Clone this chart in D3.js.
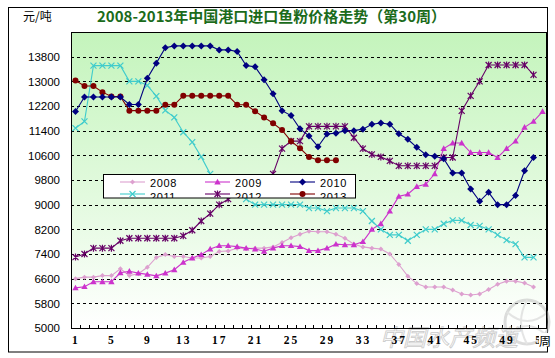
<!DOCTYPE html>
<html><head><meta charset="utf-8">
<script src="https://cdn.jsdelivr.net/npm/d3@7"></script>
<style>body{margin:0;background:#fff}svg{display:block}</style>
</head><body>
<svg id="c" width="555" height="358"></svg>
<script>
const years = ["2008","2009","2010","2011","2012","2013"];
const weeks = d3.range(1, 54);
const xTickLabels = [1,5,9,13,17,21,25,29,33,37,41,45,49,53];
const yTicks = [5000,5800,6600,7400,8200,9000,9800,10600,11400,12200,13000,13800];

const s2008 = [6600,6650,6650,6700,6700,6920,6700,6760,6970,7290,7380,7320,7320,7270,7270,7320,7480,7500,7590,7570,7590,7590,7630,7770,7930,8040,8140,8120,8120,8040,7910,7720,7630,7590,7560,7400,7060,6680,6440,6330,6330,6330,6230,6100,6070,6100,6250,6420,6520,6520,6460,6330];
const s2009 = [6300,6340,6500,6500,6500,6790,6840,6780,6740,6690,6780,6890,7130,7270,7380,7560,7670,7670,7640,7590,7560,7490,7590,7670,7670,7640,7510,7510,7590,7720,7700,7700,7800,8200,8380,8790,9270,9340,9590,9660,10000,10820,11000,11000,10690,10690,10690,10530,10820,11060,11510,11700,12020];
const s2010 = [12020,12490,12490,12490,12490,12490,12250,12250,13100,13590,14090,14150,14150,14150,14150,14150,14020,14020,13970,13510,13470,13050,12600,12050,11890,11460,11230,10880,11290,11320,11400,11400,11450,11610,11650,11610,11300,11120,10860,10620,10570,10490,10030,10030,9510,9110,9400,9000,9000,9300,10100,10530];
const s2011 = [11480,11700,13510,13510,13510,13510,13000,13000,12870,12520,12060,11830,11350,11030,10550,10000,9800,9600,9400,9180,9000,9000,9000,9000,9000,9000,8890,8890,8790,8890,8890,8890,8790,8470,8200,8020,8020,7830,8020,8200,8200,8380,8490,8490,8340,8310,8200,8020,7850,7720,7290,7290];
const s2012 = [7300,7400,7590,7590,7590,7830,7910,7910,7910,7910,7910,7910,7990,8170,8470,8710,9000,9180,9350,9500,9650,9830,10000,10820,11060,11060,11540,11540,11540,11540,11540,11170,10820,10630,10550,10420,10260,10260,10260,10260,10260,10530,10530,12040,12530,13000,13530,13530,13530,13530,13530,13210];
const s2013 = [13030,12850,12850,12650,12510,12510,12050,12050,12050,12050,12240,12240,12530,12530,12530,12530,12530,12530,12240,12240,12030,11830,11640,11420,11060,10830,10550,10440,10440,10440];

const seriesValues = [s2008, s2009, s2010, s2011, s2012, s2013];
const colors = ["#dda0cf","#cc33cc","#000080","#40cccc","#660066","#800000"];
const shapes = ["diamondS","triangle","diamond","cross","star","circle"];

const svg = d3.select("#c");
const L = 71, R = 547, T = 32, B = 328;
const x = d3.scalePoint().domain(weeks).range([L, R]).padding(0.5);
const y = d3.scaleLinear().domain([5000, 14600]).range([B, T]);

const defs = svg.append("defs");
const g = defs.append("linearGradient").attr("id","bg").attr("x1",0).attr("y1",0).attr("x2",0).attr("y2",1);
g.append("stop").attr("offset","0%").attr("stop-color","#c4f4bc");
g.append("stop").attr("offset","55%").attr("stop-color","#e2fade");
g.append("stop").attr("offset","100%").attr("stop-color","#ffffff");
defs.append("clipPath").attr("id","lgclip").append("rect").attr("x",103).attr("y",174).attr("width",253).attr("height",24);

// outer frame
svg.append("rect").attr("x",8.5).attr("y",7.5).attr("width",539).attr("height",344.5).attr("fill","#fff").attr("stroke","#000").attr("stroke-width",1);

// title
svg.append("text").attr("x",23).attr("y",21).attr("font-family","'Noto Sans CJK SC', sans-serif").attr("font-size",12).attr("fill","#000").text("元/吨");
svg.append("text").attr("x",97).attr("y",22).attr("font-family","'Noto Sans CJK SC', sans-serif").attr("font-weight","bold").attr("font-size",15).attr("fill","#1b6b1b").text("2008-2013年中国港口进口鱼粉价格走势（第30周）");

// plot bg
svg.append("rect").attr("x",L).attr("y",T).attr("width",R-L).attr("height",B-T).attr("fill","url(#bg)");

// gridlines
svg.append("g").selectAll("line").data(yTicks.slice(1)).join("line")
  .attr("x1",L).attr("x2",R).attr("y1",d=>Math.round(y(d))+0.5).attr("y2",d=>Math.round(y(d))+0.5)
  .attr("stroke","#000").attr("stroke-dasharray","3,3").attr("stroke-width",1);

// y axis labels
const yAxis = d3.axisLeft(y).tickValues(yTicks).tickFormat(d3.format("d")).tickSize(0).tickPadding(11);
const ya = svg.append("g").attr("transform",`translate(${L},0)`).call(yAxis);
ya.select(".domain").remove();
ya.selectAll("text").attr("font-family","Arial, 'Liberation Sans', sans-serif").attr("font-size",11.5).attr("fill","#000");

// x axis minor ticks
const step = x.step();
svg.append("g").selectAll("line").data(d3.range(1,53)).join("line")
  .attr("x1",d=>Math.round(L+d*step)+0.5).attr("x2",d=>Math.round(L+d*step)+0.5).attr("y1",B).attr("y2",B-3)
  .attr("stroke","#000");

// watermark (drawn under the axis labels)
const wm = svg.append("g").attr("opacity",0.5);
wm.append("circle").attr("cx",527).attr("cy",322).attr("r",22).attr("fill","none").attr("stroke","#bbb").attr("stroke-width",3);
wm.append("path").attr("d","M507,312 Q527,330 548,312 M510,334 Q527,318 545,334 M527,300 Q515,322 527,344").attr("fill","none").attr("stroke","#ccc").attr("stroke-width",2);
wm.append("text").attr("x",380).attr("y",346).attr("font-family","'Noto Sans CJK SC', sans-serif").attr("font-size",23).attr("font-style","italic").attr("fill","#f4f4f4").attr("stroke","#999").attr("stroke-width",0.8).text("中国水产频道");

// x labels
const xAxis = d3.axisBottom(x).tickValues(xTickLabels).tickSize(0).tickPadding(8);
const xa = svg.append("g").attr("transform",`translate(0,${B})`).call(xAxis);
xa.select(".domain").remove();
xa.selectAll("text").attr("font-family","'Liberation Serif', serif").attr("font-weight","bold").attr("font-size",11.5).attr("letter-spacing","2px").attr("fill","#000");

// plot border
svg.append("rect").attr("x",L+0.5).attr("y",T+0.5).attr("width",R-L-1).attr("height",B-T).attr("fill","none").attr("stroke","#000").attr("stroke-width",1);

// markers
function marker(sel, shape, color) {
  if (shape === "diamond") sel.append("path").attr("d","M0,-3.5L3.5,0L0,3.5L-3.5,0Z").attr("fill",color);
  else if (shape === "diamondS") sel.append("path").attr("d","M0,-2.5L2.5,0L0,2.5L-2.5,0Z").attr("fill",color);
  else if (shape === "triangle") sel.append("path").attr("d","M0,-3.2L3.2,2.4L-3.2,2.4Z").attr("fill",color);
  else if (shape === "circle") sel.append("circle").attr("r",3).attr("fill",color);
  else if (shape === "cross") sel.append("path").attr("d","M-3,-3L3,3M-3,3L3,-3").attr("stroke",color).attr("stroke-width",1.2);
  else if (shape === "star") sel.append("path").attr("d","M-3,-3L3,3M-3,3L3,-3M0,-3.5L0,3.5").attr("stroke",color).attr("stroke-width",1.2);
}

const line = d3.line().x((d,i)=>x(i+1)).y(d=>y(d));
const order = [0,1,3,4,5,2];
order.forEach(si => {
  const vals = seriesValues[si];
  const gg = svg.append("g");
  gg.append("path").attr("d",line(vals)).attr("fill","none").attr("stroke",colors[si]).attr("stroke-width",1.1);
  gg.selectAll("g").data(vals).join("g").attr("transform",(d,i)=>`translate(${x(i+1)},${y(d)})`)
    .each(function(){ marker(d3.select(this), shapes[si], colors[si]); });
});

// legend
const lg = svg.append("g");
lg.append("rect").attr("x",103.5).attr("y",174.5).attr("width",252).attr("height",23.5).attr("fill","#fff").attr("stroke","#000");
const lgc = lg.append("g").attr("clip-path","url(#lgclip)");
const cols = [120,205,290];
years.forEach((yr,i)=>{
  const cx = cols[i%3], row = Math.floor(i/3);
  const ly = row===0 ? 182 : 194;
  const e = lgc.append("g");
  e.append("line").attr("x1",cx).attr("x2",cx+25).attr("y1",ly).attr("y2",ly).attr("stroke",colors[i]).attr("stroke-width",1.1);
  const m = e.append("g").attr("transform",`translate(${cx+12.5},${ly})`);
  marker(m, shapes[i], colors[i]);
  e.append("text").attr("x",cx+30).attr("y",row===0 ? ly+4.5 : ly+7).attr("font-family","Arial, 'Liberation Sans', sans-serif").attr("font-size",11).attr("letter-spacing","0.6px").attr("fill","#000").text(yr);
});

// unit label 周
svg.append("rect").attr("x",539).attr("y",333).attr("width",9).attr("height",14).attr("fill","#fff");
svg.append("text").attr("x",539).attr("y",346).attr("font-family","'Noto Sans CJK SC', sans-serif").attr("font-size",12).attr("fill","#000").text("周");
</script>
</body></html>
